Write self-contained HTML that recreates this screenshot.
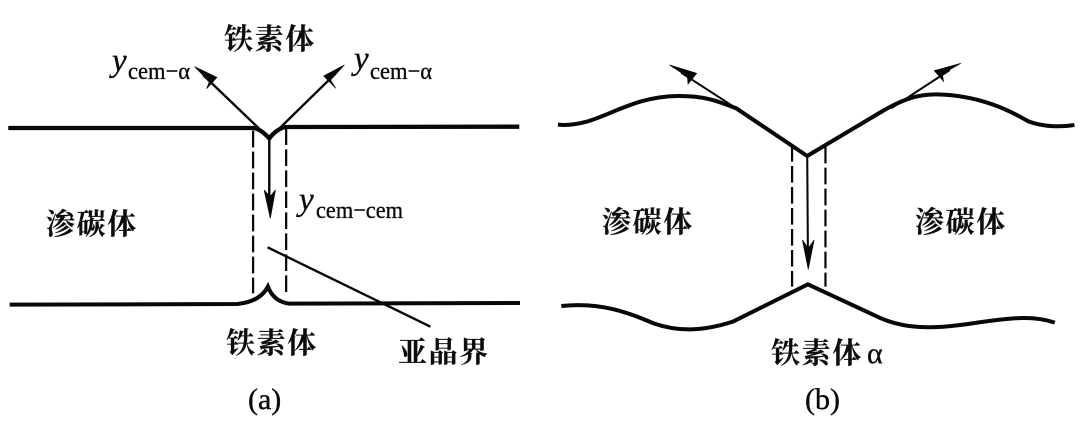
<!DOCTYPE html>
<html lang="zh"><head><meta charset="utf-8"><style>
html,body{margin:0;padding:0;background:#fff;width:1080px;height:422px;overflow:hidden}
svg{display:block;filter:blur(.35px)}
.z{font-family:"Liberation Serif","Noto Serif CJK SC",serif;font-size:29px;font-weight:700;fill:#0c0c0c;letter-spacing:1.6px;stroke:#0c0c0c;stroke-width:.15px}
.y{font-family:"Liberation Serif",serif;font-style:italic;font-size:33px;fill:#0c0c0c;stroke:#0c0c0c;stroke-width:.35px}
.s{font-family:"Liberation Serif",serif;font-size:24px;fill:#0c0c0c;stroke:#0c0c0c;stroke-width:.35px}
.c{font-family:"Liberation Serif",serif;font-size:30px;fill:#0c0c0c;stroke:#0c0c0c;stroke-width:.4px}
</style></head><body>
<svg width="1080" height="422" viewBox="0 0 1080 422" xmlns="http://www.w3.org/2000/svg">
<rect width="1080" height="422" fill="#fff"/>
<g transform="scale(.34435 .33333)" fill="none" stroke="#080808">
<path d="M24 384L735 384Q755 385 782 415Q805 385 830 381L1508 380" stroke-width="13"/>
<path d="M782 415L590 225M782 415L975 220M782 415L782 600" stroke-width="7"/>
<path d="M735 392V880M831 385V880" stroke-width="6.5" stroke-dasharray="50 13"/>
<path d="M28 914L690 912Q755 905 778 860Q795 905 840 911L1510 909" stroke-width="12"/>
<path d="M777 742L1250 980" stroke-width="7"/>
<g fill="#080808" stroke="#080808" stroke-width="2">
<polygon points="565,200 630,232 600,266 608,245"/>
<polygon points="1000,195 940,228 975,265 960,240"/>
<polygon points="785,655 767,570 784,590 800,570"/>
</g>
</g>
<g transform="translate(540 0) scale(.34435 .33333)" fill="none" stroke="#080808">
<path d="M52 374C170 385 240 290 400 288C480 287 520 305 570 325L776 468L1000 330C1060 295 1100 283 1150 283C1280 285 1370 335 1420 365C1460 380 1510 382 1552 375" stroke-width="12"/>
<path d="M62 918C180 905 260 940 330 970C400 995 470 995 560 965L778 853L990 955C1060 985 1130 987 1220 975C1330 960 1420 940 1495 968" stroke-width="12"/>
<path d="M570 325L410 218M1020 325L1190 210M776 468L778 760" stroke-width="6"/>
<path d="M732 435V860M829 440V860" stroke-width="6.5" stroke-dasharray="50 13"/>
<g fill="#080808" stroke="#080808" stroke-width="2">
<polygon points="376,195 455,220 430,252 428,230"/>
<polygon points="1222,190 1145,212 1172,244 1168,222"/>
<polygon points="779,808 762,720 779,745 796,720"/>
</g>
</g>
<text class="z" x="224" y="49">铁素体</text>
<text class="z" x="46" y="234">渗碳体</text>
<text class="z" x="226" y="353">铁素体</text>
<text class="z" x="398" y="362">亚晶界</text>
<text class="z" x="602" y="232">渗碳体</text>
<text class="z" x="915" y="232">渗碳体</text>
<text class="z" x="771" y="363">铁素体</text>
<text class="s" x="867" y="363" style="font-size:30px">α</text>
<text class="c" x="248" y="409">(a)</text>
<text class="c" x="805" y="409">(b)</text>
<text class="y" x="112" y="71">y</text><text class="s" x="128" y="79" textLength="62" lengthAdjust="spacingAndGlyphs">cem−α</text>
<text class="y" x="354" y="69">y</text><text class="s" x="370" y="79" textLength="62" lengthAdjust="spacingAndGlyphs">cem−α</text>
<text class="y" x="299" y="210">y</text><text class="s" x="316" y="218" textLength="87" lengthAdjust="spacingAndGlyphs">cem−cem</text>
</svg>
</body></html>
